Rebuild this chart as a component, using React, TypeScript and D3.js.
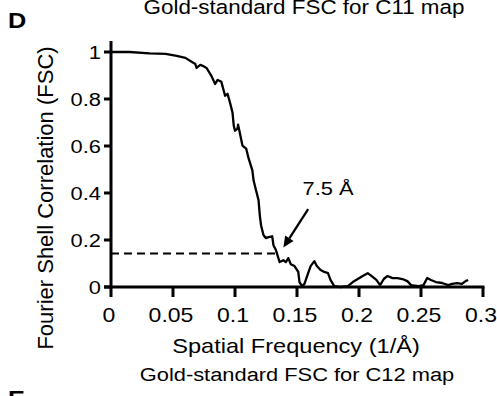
import React from 'react';
import * as d3 from 'd3';

// FSC curve: [spatial frequency (1/Å), FSC]
const fscCurve: [number, number][] = [
	[0, 1.0], [0.015, 1.0], [0.031, 0.994], [0.044, 0.992], [0.053, 0.983], [0.06, 0.975],
	[0.064, 0.962], [0.068, 0.949], [0.069, 0.932], [0.072, 0.945], [0.074, 0.941], [0.077, 0.932],
	[0.081, 0.898], [0.084, 0.864], [0.086, 0.881], [0.089, 0.873], [0.092, 0.814], [0.094, 0.822],
	[0.096, 0.784], [0.098, 0.742], [0.099, 0.686], [0.1, 0.665], [0.102, 0.674], [0.1025, 0.691],
	[0.104, 0.653], [0.106, 0.602], [0.109, 0.589], [0.111, 0.547], [0.114, 0.496], [0.115, 0.453],
	[0.117, 0.411], [0.119, 0.369], [0.12, 0.305], [0.121, 0.263], [0.123, 0.22], [0.125, 0.208],
	[0.127, 0.212], [0.13, 0.216], [0.131, 0.178], [0.133, 0.157], [0.135, 0.123], [0.136, 0.106],
	[0.139, 0.114], [0.141, 0.106], [0.143, 0.123], [0.145, 0.097], [0.148, 0.089], [0.151, 0.064],
	[0.152, 0.021], [0.154, 0.004], [0.156, 0.013], [0.159, 0.059], [0.161, 0.089], [0.164, 0.11],
	[0.166, 0.089], [0.169, 0.072], [0.172, 0.064], [0.175, 0.059], [0.177, 0.03], [0.18, 0.004],
	[0.185, 0.0], [0.191, 0.004], [0.195, 0.021], [0.199, 0.034], [0.203, 0.047], [0.207, 0.059],
	[0.21, 0.047], [0.214, 0.03], [0.217, 0.008], [0.22, 0.034], [0.223, 0.047], [0.227, 0.038],
	[0.231, 0.038], [0.235, 0.034], [0.239, 0.025], [0.242, 0.008], [0.248, 0.004], [0.252, 0.008],
	[0.255, 0.038], [0.258, 0.03], [0.262, 0.021], [0.267, 0.017], [0.272, 0.008], [0.275, 0.013],
	[0.279, 0.017], [0.283, 0.013], [0.286, 0.025], [0.288, 0.03],
];

const xTicks = [0, 0.05, 0.1, 0.15, 0.2, 0.25, 0.3];
const xTickLabels = ['0', '0.05', '0.1', '0.15', '0.2', '0.25', '0.3'];
const yTicks = [0, 0.2, 0.4, 0.6, 0.8, 1];
const yTickLabels = ['0', '0.2', '0.4', '0.6', '0.8', '1'];

// 0.143 threshold, crossing at 7.5 Å
const threshold = 0.143;
const crossFreq = 1 / 7.5;
const resolutionLabel = '7.5 Å';

const W = 497;
const H = 396;
const font = "'Liberation Sans', Arial, sans-serif";
// the figure's lettering is a little wider than plain Arial
const stretch = 1.15;

const T: React.FC<{ x: number; y: number; size: number; anchor?: string; bold?: boolean; children: React.ReactNode }> = ({
	x,
	y,
	size,
	anchor = 'start',
	bold = false,
	children,
}) => (
	<text
		transform={`translate(${x},${y}) scale(${stretch},1)`}
		fontSize={size}
		textAnchor={anchor}
		fontWeight={bold ? 'bold' : 'normal'}
	>
		{children}
	</text>
);

const App: React.FC = () => {
	const x = d3.scaleLinear().domain([0, 0.3]).range([111, 483]);
	const y = d3.scaleLinear().domain([0, 1]).range([287, 52]);

	const line = d3
		.line<[number, number]>()
		.x((d) => x(d[0]))
		.y((d) => y(d[1]));

	// arrow from label down to the crossing point
	const tail = { x: x(0.159), y: y(0.331) };
	const tip = { x: x(0.139), y: y(0.168) };
	const ang = Math.atan2(tip.y - tail.y, tip.x - tail.x);
	const hl = 11;
	const hw = 5;
	const bx = tip.x - hl * Math.cos(ang);
	const by = tip.y - hl * Math.sin(ang);
	const head = `M${tip.x},${tip.y} L${bx + hw * Math.sin(ang)},${by - hw * Math.cos(ang)} L${bx - hw * Math.sin(ang)},${by + hw * Math.cos(ang)} Z`;

	return (
		<svg width={W} height={H} style={{ position: 'absolute', left: 0, top: 0, background: '#fff' }} fontFamily={font}>
			<T x={304} y={14} size={19.5} anchor="middle">
				Gold-standard FSC for C11 map
			</T>
			<T x={8} y={28} size={22} bold>
				D
			</T>

			{/* dashed threshold line */}
			<line
				x1={x(0)}
				x2={x(crossFreq)}
				y1={y(threshold)}
				y2={y(threshold)}
				stroke="#000"
				strokeWidth={2}
				strokeDasharray="8,5"
			/>

			<path d={line(fscCurve) || ''} fill="none" stroke="#000" strokeWidth={2.3} strokeLinejoin="round" />

			{/* axes */}
			<line x1={x(0)} x2={x(0)} y1={41} y2={y(0)} stroke="#000" strokeWidth={3} />
			<line x1={x(0) - 7} x2={x(0.3) + 1.5} y1={y(0)} y2={y(0)} stroke="#000" strokeWidth={3} />
			{yTicks.map((t, i) => (
				<g key={'y' + i}>
					<line x1={x(0) - 7} x2={x(0)} y1={y(t)} y2={y(t)} stroke="#000" strokeWidth={3} />
					<T x={x(0) - 10} y={y(t) + 6.5} size={19} anchor="end">
						{yTickLabels[i]}
					</T>
				</g>
			))}
			{xTicks.map((t, i) => (
				<g key={'x' + i}>
					<line x1={x(t)} x2={x(t)} y1={y(0)} y2={y(0) + 10} stroke="#000" strokeWidth={3} />
					<T x={x(t) - 2} y={322} size={20} anchor="middle">
						{xTickLabels[i]}
					</T>
				</g>
			))}

			{/* annotation */}
			<line x1={tail.x} y1={tail.y} x2={bx} y2={by} stroke="#000" strokeWidth={2.3} />
			<path d={head} fill="#000" />
			<T x={328} y={195} size={19} anchor="middle">
				{resolutionLabel}
			</T>

			<T x={296} y={353} size={20.5} anchor="middle">
				Spatial Frequency (1/Å)
			</T>
			<text transform="translate(53,198) rotate(-90)" fontSize={22} textAnchor="middle">
				Fourier Shell Correlation (FSC)
			</text>

			<T x={297} y={381} size={19} anchor="middle">
				Gold-standard FSC for C12 map
			</T>
			<T x={8} y={406} size={22} bold>
				E
			</T>
		</svg>
	);
};

export default App;
